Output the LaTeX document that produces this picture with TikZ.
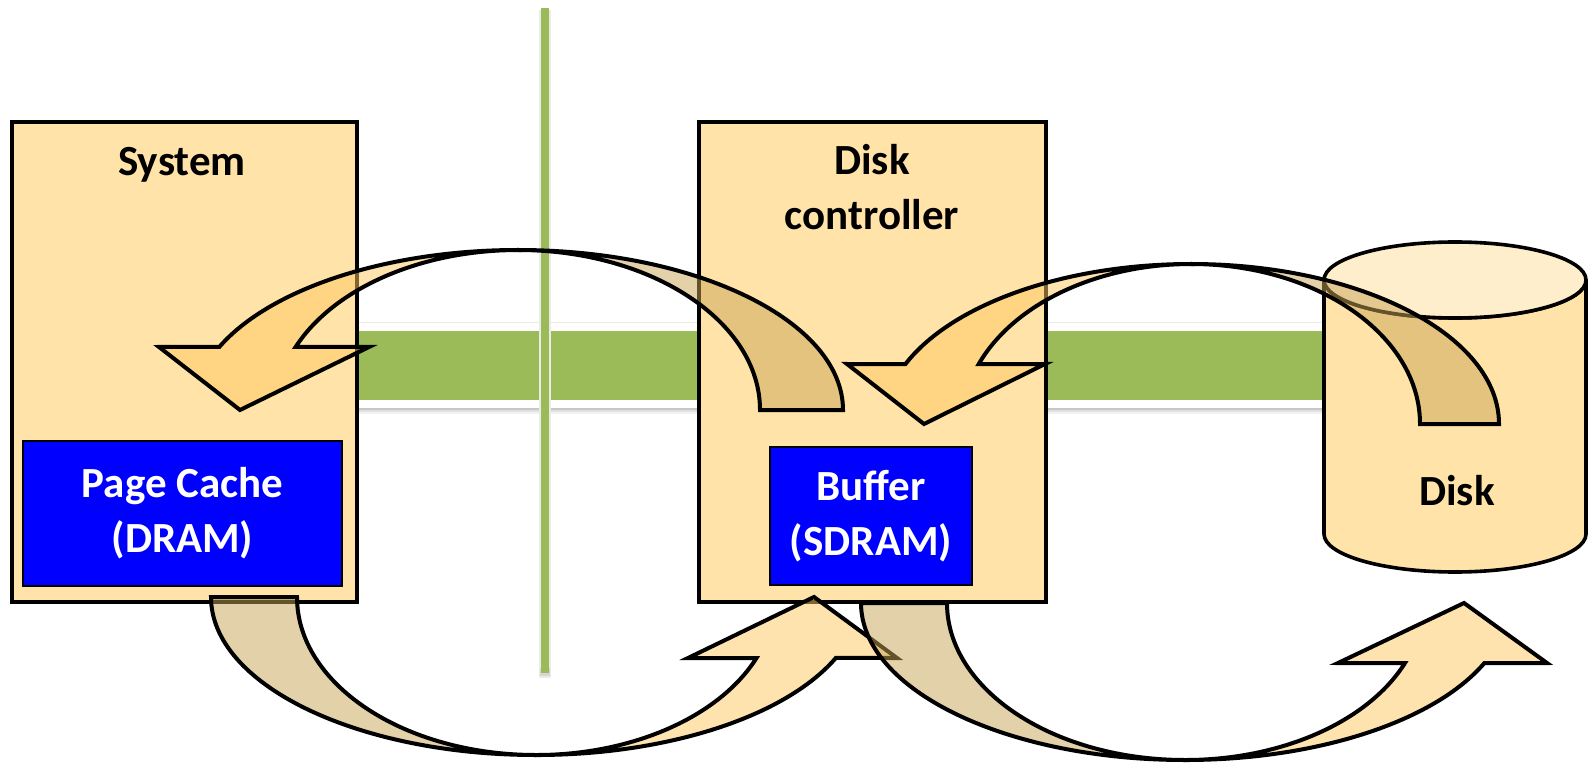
\documentclass[tikz,border=0pt]{standalone}
\usepackage{fontspec}
\setmainfont{Carlito}
\definecolor{boxfill}{HTML}{FFE3A9}
\definecolor{cyltop}{HTML}{FFEECC}
\definecolor{bandgreen}{HTML}{9BBB59}
\definecolor{cacheblue}{HTML}{0000FF}
\definecolor{backarr}{HTML}{C9A555}
\definecolor{frontarr}{HTML}{FFC95F}
\begin{document}
\begin{tikzpicture}[x=0.5pt,y=-0.5pt,
  unitbox/.style={draw=black, line width=1.8pt, fill=boxfill, inner sep=0pt},
  lbl/.style={font=\bfseries\fontsize{21.5}{27.5}\selectfont, align=center, inner sep=0pt},
  membox/.style={lbl, draw=black, line width=1.4pt, fill=cacheblue, text=white},
  arrback/.style={draw=black, line width=2pt, fill=backarr, fill opacity=0.5, line join=miter},
  arrfront/.style={draw=black, line width=2pt, fill=frontarr, fill opacity=0.5, line join=miter},
]
\useasboundingbox (0,0) rectangle (1589,764);
\fill[white] (0,0) rectangle (1589,764);

% horizontal band
\fill[black!22] (300,408) rectangle (1400,410);
\fill[black!12] (300,410) rectangle (1400,412);
\fill[black!5] (300,412) rectangle (1400,414);
\fill[white] (300,323) rectangle (1400,408);
\draw[black!8, line width=0.5pt] (300,323) -- (1400,323);
\fill[bandgreen] (300,331) rectangle (1400,400);

% vertical line
\fill[black!8] (539,10) rectangle (551,678);
\fill[black!16] (540,668) rectangle (550,676);
\fill[bandgreen] (541,8) rectangle (549,673);

% boxes
\node[unitbox, minimum width=172.5pt, minimum height=240pt] (sys) at (184.5,362) {};
\node[unitbox, minimum width=173.5pt, minimum height=240pt] (ctrl) at (872.5,362) {};
\node[membox, minimum width=159.5pt, minimum height=72.5pt] (cache) at (182.5,513.5) {Page Cache\\(DRAM)};
\node[membox, minimum width=101pt, minimum height=69pt] (buf) at (871,516) {Buffer\\(SDRAM)};

% disk cylinder
\path[fill=boxfill, draw=black, line width=1.8pt] (1324,280) -- (1324,534)
  arc[start angle=180, end angle=0, x radius=131, y radius=38] -- (1586,280)
  arc[start angle=0, end angle=180, x radius=131, y radius=38] -- cycle;
\draw[fill=cyltop, line width=1.8pt] (1455,280) ellipse[x radius=131, y radius=38];
\coordinate (disk) at (1455,407);

% labels
\node[lbl, anchor=base] (systxt) at (182,176) {System};
\node[lbl, anchor=base] (ctrltxta) at (872,175) {Disk};
\node[lbl, anchor=base] (ctrltxtb) at (872,230) {controller};
\node[lbl, anchor=base] (disktxt) at (1457,505) {Disk};

% top-left curved arrow (controller -> system)
\path[arrback] (843,410) arc[start angle=360, end angle=270, x radius=325, y radius=160]
  arc[start angle=270, end angle=360, x radius=242, y radius=160] -- cycle;
\path[arrfront] (518,250) arc[start angle=270, end angle=203.2, x radius=325, y radius=160]
  -- (159,347) -- (240,410) -- (369,347) -- (295.6,347)
  arc[start angle=203.2, end angle=270, x radius=242, y radius=160] -- cycle;

% top-right curved arrow (disk -> buffer)
\path[arrback] (1499,424) arc[start angle=360, end angle=270, x radius=308, y radius=160]
  arc[start angle=270, end angle=360, x radius=229, y radius=160] -- cycle;
\path[arrfront] (1191,264) arc[start angle=270, end angle=202, x radius=308, y radius=160]
  -- (847,364) -- (924,424) -- (1045,364) -- (978.7,364.1)
  arc[start angle=202, end angle=270, x radius=229, y radius=160] -- cycle;

% bottom-left curved arrow (page cache -> buffer)
\path[arrback] (211,597) arc[start angle=180, end angle=90, x radius=325, y radius=158]
  arc[start angle=90, end angle=180, x radius=239, y radius=158] -- cycle;
\path[arrfront] (536,755) arc[start angle=90, end angle=22.7, x radius=325, y radius=158]
  -- (897,658) -- (814,597) -- (688,658) -- (756.5,658)
  arc[start angle=22.7, end angle=90, x radius=239, y radius=158] -- cycle;

% bottom-right curved arrow (buffer -> disk)
\path[arrback] (861,603) arc[start angle=180, end angle=90, x radius=324, y radius=157]
  arc[start angle=90, end angle=180, x radius=238, y radius=157] -- cycle;
\path[arrfront] (1185,760) arc[start angle=90, end angle=22.5, x radius=324, y radius=157]
  -- (1547,663) -- (1464,603) -- (1338,663) -- (1404.9,663.1)
  arc[start angle=22.5, end angle=90, x radius=238, y radius=157] -- cycle;
\end{tikzpicture}
\end{document}
